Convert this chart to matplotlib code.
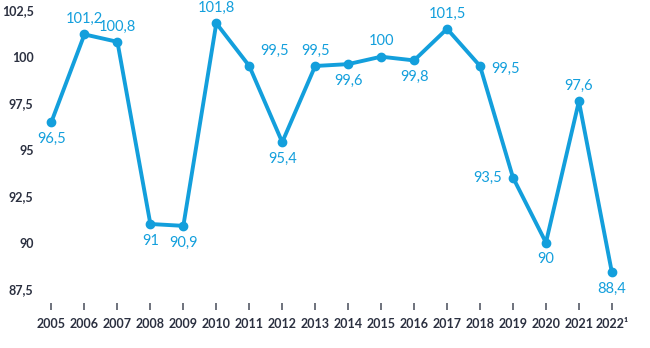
import matplotlib
matplotlib.use("Agg")
import matplotlib.pyplot as plt

years = list(range(2005, 2023))
values = [96.5, 101.2, 100.8, 91, 90.9, 101.8, 99.5, 95.4, 99.5, 99.6, 100, 99.8, 101.5, 99.5, 93.5, 90, 97.6, 88.4]
xlabels = [str(y) for y in years[:-1]] + ["2022¹"]
yticks = [87.5, 90, 92.5, 95, 97.5, 100, 102.5]
positions = ["below", "above", "above", "below", "below", "above", "aboveright", "below", "above",
             "below", "above", "below", "above", "right", "left", "below", "above", "below"]

blue = "#139fdc"
dark = "#2b3040"
plt.rcParams["font.family"] = ["Lato", "DejaVu Sans"]

fig = plt.figure(figsize=(6.5, 3.48), dpi=100)
ax = fig.add_axes([35/650, 1-303/348, 595/650, 303/348])
ax.plot(years, values, color=blue, lw=2.8, marker="o", ms=6, solid_joinstyle="round", zorder=3)

off = {"above": (0, 6, "center", "bottom"), "below": (0, -7, "center", "top"),
       "aboveright": (8, 6, "left", "bottom"), "right": (8, -2, "left", "center"),
       "left": (-8, 0, "right", "center")}
for x, v, p in zip(years, values, positions):
    dx, dy, ha, va = off[p]
    s = ("%g" % v).replace(".", ",")
    ax.annotate(s, (x, v), xytext=(dx, dy), textcoords="offset points", ha=ha, va=va,
                color=blue, fontsize=10.5)

ax.set_xlim(2004.5, 2022.55)
ax.set_ylim(86.75, 103.05)
ax.set_yticks(yticks)
ax.set_yticklabels([("%g" % t).replace(".", ",") for t in yticks], fontsize=9, fontweight="bold", color=dark)
ax.set_xticks(years)
ax.set_xticklabels(xlabels, fontsize=9, fontweight="bold", color=dark)
ax.tick_params(axis="y", length=0, pad=1)
ax.tick_params(axis="x", length=5, width=1.2, color="#555a66", pad=6, direction="out")
for s in ax.spines.values():
    s.set_visible(False)
ax.patch.set_alpha(0)
fig.savefig("out.png", dpi=100)
